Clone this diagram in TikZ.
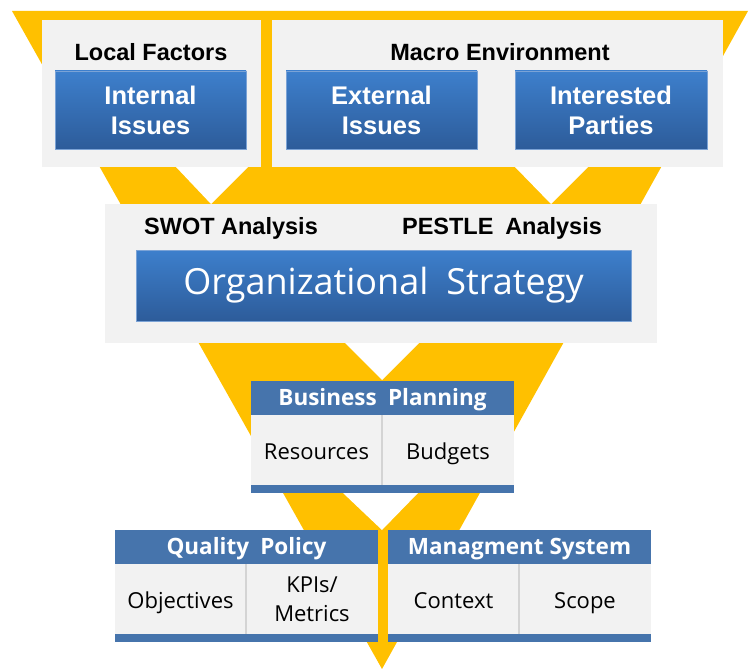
\documentclass[tikz,border=0pt]{standalone}
\usepackage{fontspec}
\setmainfont{Open Sans}
\setsansfont{Liberation Sans}
\usepackage{xcolor}
\usetikzlibrary{shapes,positioning}

\definecolor{funnelyellow}{HTML}{FFC000}
\definecolor{panelgray}{HTML}{F2F2F2}
\definecolor{headblue}{HTML}{4674AC}
\definecolor{topblue}{HTML}{3D7FCC}
\definecolor{botblue}{HTML}{2D5C9A}
\definecolor{edgeblue}{HTML}{7BA3D6}
\definecolor{shadegray}{HTML}{D4D4D4}

\begin{document}
\begin{tikzpicture}[x=1pt, y=-1pt]
% Define styles
\tikzstyle{panel} = [rectangle, fill=panelgray, inner sep=0pt, outer sep=0pt]
\tikzstyle{paneltitle} = [anchor=base, inner sep=0pt, font=\sffamily\bfseries\fontsize{23.5}{28}\selectfont]
\tikzstyle{issue} = [rectangle, draw=edgeblue, line width=0.8pt, top color=topblue, bottom color=botblue, text=white, align=center, inner sep=0pt, font=\sffamily\bfseries\fontsize{25.5}{30}\selectfont]
\tikzstyle{headbar} = [rectangle, fill=headblue, text=white, minimum width=263pt, minimum height=34pt, inner sep=0pt, outer sep=0pt, text height=18pt, text depth=3pt, font=\bfseries\fontsize{22.5}{26}\selectfont]
\tikzstyle{itemcell} = [rectangle, fill=panelgray, minimum height=70pt, align=center, inner sep=0pt, outer sep=0pt, font=\fontsize{22}{29}\selectfont]
\tikzstyle{oneline} = [itemcell, text height=20pt, text depth=2pt]
\tikzstyle{footbar} = [rectangle, fill=headblue, minimum width=263pt, minimum height=8pt, inner sep=0pt, outer sep=0pt]
\tikzstyle{divider} = [draw=shadegray, line width=1.2pt]

\useasboundingbox (0,0) rectangle (753,669);

% Draw funnel
\fill[funnelyellow] (12,11) -- (748,11) -- (382,669) -- cycle;
\fill[white] (176,167) -- (248,167) -- (211,204) -- cycle;
\fill[white] (515,167) -- (588,167) -- (551,204) -- cycle;
\fill[white] (345,343) -- (419,343) -- (382,380) -- cycle;
\fill[white] (343,493) -- (418,493) -- (382,530) -- cycle;

% Define nodes
\node (local) [panel, minimum width=219pt, minimum height=147pt] at (151.5,93.5) {};
\node (macro) [panel, minimum width=451pt, minimum height=147pt] at (497.5,93.5) {};
\node (localtitle) [paneltitle] at (151,61) {Local Factors};
\node (macrotitle) [paneltitle] at (500,61) {Macro Environment};
\node (internal) [issue, minimum width=191pt, minimum height=78pt] at (150.5,110) {Internal\\Issues};
\node (external) [issue, minimum width=191pt, minimum height=78pt] at (381.5,110) {External\\Issues};
\node (parties) [issue, minimum width=192pt, minimum height=78pt] at (611,110) {Interested\\Parties};

\node (analysis) [panel, minimum width=552pt, minimum height=139pt] at (381,273.5) {};
\node (swot) [paneltitle] at (231,234) {SWOT Analysis};
\node (pestle) [paneltitle] at (502,234) {PESTLE\enspace Analysis};
\node (strategy) [issue, minimum width=495pt, minimum height=71pt, font=\fontsize{36}{40}\selectfont] at (383.5,285.5) {Organizational\enspace Strategy};

\node (planning) [headbar] at (382.5,398) {Business\enspace Planning};
\node (resources) [oneline, minimum width=131pt, below right=0pt of planning.south west] {Resources};
\node (budgets) [oneline, minimum width=132pt, right=0pt of resources] {Budgets};
\node (planbar) [footbar, below right=0pt of resources.south west] {};

\node (policy) [headbar] at (246.5,547) {Quality\enspace Policy};
\node (objectives) [oneline, minimum width=131pt, below right=0pt of policy.south west] {Objectives};
\node (kpis) [itemcell, minimum width=132pt, right=0pt of objectives] {KPIs/\\Metrics};
\node (policybar) [footbar, below right=0pt of objectives.south west] {};

\node (system) [headbar] at (519.5,547) {Managment System};
\node (context) [oneline, minimum width=131pt, below right=0pt of system.south west] {Context};
\node (scope) [oneline, minimum width=132pt, right=0pt of context] {Scope};
\node (systembar) [footbar, below right=0pt of context.south west] {};

% Draw cell dividers
\draw [divider] (budgets.north west) -- (budgets.south west);
\draw [divider] (kpis.north west) -- (kpis.south west);
\draw [divider] (scope.north west) -- (scope.south west);
\end{tikzpicture}
\end{document}
